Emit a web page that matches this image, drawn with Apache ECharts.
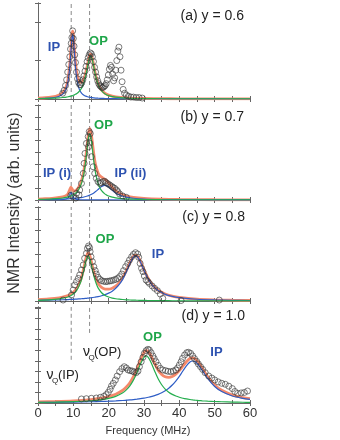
<!DOCTYPE html>
<html><head><meta charset="utf-8">
<script src="https://cdn.jsdelivr.net/npm/echarts@6/dist/echarts.min.js"></script>
<style>html,body{margin:0;padding:0;background:#fff}#c{width:340px;height:440px}</style>
</head><body><div id="c"></div>
<script>
// ---------- tick labels / reference lines ----------
const xTickLabels = [0, 10, 20, 30, 40, 50, 60];
const vqIP = 9.4;          // MHz, dashed line nu_Q(IP)
const vqOP = 14.6;         // MHz, dashed line nu_Q(OP)
const dashStartD = [45, 73]; // panel (d): dashed lines start (IP, OP), go up to top
const panelLabels = ['(a) y = 0.6', '(b) y = 0.7', '(c) y = 0.8', '(d) y = 1.0'];

// ---------- panel (a) y = 0.6 ----------
const aX = [0,2,4,5,6,7,7.5,8,8.5,9,9.3,9.6,9.8,10,10.3,10.6,11,11.5,12,12.5,13,13.5,14,14.5,14.9,15.3,15.8,16.3,17,17.5,18,19,20,22,25,30,35,40,50,60];
const aBlue = [0.44,0.70,1.25,1.81,2.85,5.06,7.23,11.1,18.4,33.5,48.2,63.1,67,63.1,48.2,33.5,20.6,12.1,7.83,5.4,3.94,2.99,2.34,1.89,1.61,1.39,1.17,1.0,0.82,0.72,0.63,0.50,0.41,0.29,0.19,0.10,0.07,0.05,0.03,0.02];
const aGreen = [0.45,0.60,0.84,1.01,1.24,1.57,1.77,2.03,2.34,2.73,3.02,3.33,3.58,3.86,4.33,4.89,5.8,7.33,9.49,12.6,17.3,24.1,33.1,42.0,45,42.0,33.1,24.1,15.2,11.25,8.54,5.31,3.58,1.92,0.97,0.44,0.25,0.16,0.08,0.05];
const aRed = [0.89,1.3,2.09,2.82,4.09,6.63,9.0,13.1,20.7,36.2,51.2,66.4,70.6,67.0,52.5,38.4,26.4,19.4,17.3,18.0,21.2,27.1,35.4,43.9,46.6,43.4,34.3,25.1,16.0,12.0,9.2,5.8,4.0,2.2,1.16,0.54,0.32,0.21,0.11,0.07];
const aData = [[7.0,6],[7.4,9],[7.8,14],[8.1,20],[8.4,28],[8.7,36],[9.0,44],[9.2,52],[9.4,58],[9.6,64],[9.8,71],[10.0,63],[10.2,55],[10.4,46],[10.6,38],[10.9,28],[11.2,21],[11.5,17],[11.8,15],[12.1,15],[12.4,17],[12.7,20],[13.0,24],[13.3,29],[13.6,34],[13.9,39],[14.2,43],[14.5,46],[14.8,48],[15.1,47],[15.4,44],[15.7,39],[16.0,33],[16.3,28],[16.6,23],[16.9,19],[17.2,16],[17.5,14],[17.8,13],[18.1,12],[18.4,12],[18.7,13],[19.0,14],[19.3,16],[19.6,20],[19.9,25],[20.2,31],[20.5,35],[20.8,33],[21.1,26],[21.4,19],[21.7,22],[22.0,30],[22.3,40],[22.6,50],[22.9,54],[23.2,44],[23.5,30],[23.8,18],[24.1,10],[24.5,6],[25.0,4],[25.6,3],[26.3,2],[27.0,2],[27.8,1.5],[28.6,1.5],[29.5,1]];

// ---------- panel (b) y = 0.7 ----------
const bX = [0,2,4,6,7,8,8.5,9,9.3,9.6,10,10.5,11,11.5,12,12.5,13,13.5,14,14.3,14.65,15,15.3,15.8,16.3,17,17.5,18,18.9,19.5,20,21,22,23,24,25,27,30,35,40,50,60];
const bGreen = [0.59,0.79,1.11,1.66,2.11,2.77,3.22,3.78,4.19,4.67,5.44,6.7,8.42,10.9,14.4,19.8,28.1,40.6,56.8,65.6,70,65.6,56.8,40.6,28.1,17.4,12.8,9.78,6.42,5.04,4.19,3.03,2.29,1.78,1.43,1.17,0.83,0.54,0.31,0.2,0.1,0.06];
const bBlue2 = [0.38,0.47,0.60,0.79,0.93,1.09,1.19,1.30,1.38,1.46,1.58,1.75,1.95,2.19,2.46,2.79,3.18,3.66,4.23,4.63,5.15,5.76,6.35,7.49,8.86,11.07,12.73,14.22,15.5,14.9,13.67,10.4,7.49,5.40,3.98,3.02,1.87,1.05,0.52,0.31,0.14,0.08];
const bRed = [0.99,1.3,1.78,2.63,3.4,4.89,6.66,10.96,13.57,12.01,9.72,9.63,11.01,13.48,17.12,22.78,31.42,44.37,61.12,70.31,75.22,71.42,63.2,48.14,37.0,28.5,25.56,24.03,21.94,19.96,17.88,13.45,9.79,7.19,5.42,4.2,2.7,1.6,0.83,0.51,0.24,0.14];
const bBlue1X = [0,4,6,7,8,8.5,9,9.3,9.6,10,10.5,11,11.5,12,13,14,16,20,30,60];
const bBlue1 = [0.02,0.07,0.18,0.36,1.03,2.25,5.88,8,5.88,2.70,1.18,0.64,0.39,0.26,0.14,0.09,0.05,0.03,0.01,0];
const bData = [[9.3,5],[9.95,3.5],[10.7,2],[10.9,7],[11.6,5.3],[11.8,10.5],[12.3,17.5],[12.8,28],[13.05,38.6],[13.3,49],[13.7,59.6],[14.2,66.7],[14.5,72],[14.8,70],[14.3,56],[14.65,60],[15.1,45.6],[15.6,35],[16.05,28],[16.5,22.8],[17.0,19.3],[17.5,17.5],[17.9,18.2],[18.4,19.3],[18.9,19.6],[19.3,18.2],[19.8,17],[20.3,15.8],[20.8,14.5],[21.2,13.3],[21.7,12.3],[22.2,10.5],[22.6,8.8],[23.1,6.3],[24.0,4.2],[25.0,2.8]];

// ---------- panel (c) y = 0.8 ----------
const cX = [0,3,6,8,9,10,11,12,12.5,13,13.5,14,14.2,14.5,15,15.5,16,16.5,17,18,19,20,21,22,23,24,25,26,27,27.6,28.2,29,30,31,32,33,34,36,38,40,45,50,55,60];
const cGreen = [0.76,1.21,2.21,3.72,5.13,7.45,11.5,19.3,25.4,33.2,41.7,47.4,48,46.7,40.1,31.6,24,18.3,14.0,8.8,5.9,4.21,3.14,2.42,1.93,1.57,1.3,1.09,0.93,0.85,0.78,0.70,0.62,0.55,0.49,0.44,0.39,0.33,0.27,0.23,0.16,0.12,0.09,0.07];
const cBlue = [0.76,0.95,1.23,1.48,1.64,1.83,2.04,2.30,2.46,2.6,2.79,2.98,3.06,3.2,3.44,3.71,4.0,4.34,4.7,5.63,6.82,8.39,10.5,13.5,17.6,23.3,30.9,39.7,46.6,48,46.6,41.4,32.7,24.7,18.6,14.2,11.1,7.1,4.88,3.54,1.87,1.14,0.77,0.55];
const cRed = [1.52,2.16,3.44,5.2,6.77,9.28,13.54,21.6,27.86,35.8,44.49,50.38,51.06,49.9,43.54,35.31,28.0,22.64,18.7,14.43,12.72,12.6,13.64,15.92,19.53,24.87,32.2,40.79,47.53,48.85,47.38,42.1,33.32,25.25,19.09,14.64,11.49,7.43,5.15,3.77,2.03,1.26,0.86,0.62];
const cData = [[7.1,1],[9.5,6.4],[9.95,11.7],[10.4,17],[10.9,20.6],[11.4,24],[11.8,27.7],[12.3,33],[12.8,38.3],[13.2,45.4],[13.7,50.7],[14.0,56],[14.3,58.5],[14.6,56.7],[14.75,52.5],[15.0,47],[15.4,41.8],[15.8,36.5],[16.2,32.3],[16.5,28.7],[17.0,25.2],[17.5,23],[18.0,21.6],[18.6,20.9],[19.2,20.6],[19.7,20.9],[20.3,21.3],[20.8,21.6],[21.4,22.3],[22.0,23],[22.5,24],[23.1,25.9],[23.7,28.7],[24.2,32.3],[24.8,36.5],[25.4,40],[25.9,43.6],[26.5,47],[27.0,49.6],[27.6,51.4],[28.2,50],[28.5,46.5],[28.9,40],[29.3,34.8],[29.7,31.2],[30.1,26.6],[30.6,22.3],[31.1,20.6],[31.5,18.8],[32.3,16],[33.0,13.5],[33.8,11],[34.6,7.4],[35.3,2.8],[40.5,0.5],[51.3,1]];

// ---------- panel (d) y = 1.0 ----------
const dX = [0,5,10,15,18,20,22,24,25,26,27,28,29,30,30.6,31.2,32,33,34,35,36,37,38,39,40,41,42,43,43.8,44.6,45.5,46.5,48,50,52,55,58,60];
const dGreen = [0.64,0.9,1.37,2.34,3.51,4.82,6.96,10.7,13.7,17.9,23.8,31.6,40.6,47.6,49,47.6,42.3,33.4,25.2,19.0,14.5,11.3,8.96,7.25,5.97,4.99,4.22,3.62,3.22,2.88,2.56,2.27,1.91,1.55,1.28,0.99,0.79,0.68];
const dBlue = [0.56,0.71,0.94,1.28,1.59,1.85,2.19,2.62,2.9,3.19,3.56,3.99,4.48,5.08,5.49,5.96,6.66,7.73,9.04,10.7,12.8,15.4,18.7,22.8,27.7,33.3,38.7,42.7,43.75,42.7,39.2,33.9,25.6,17.2,11.9,7.27,4.83,3.8];
const dRed = [1.2,1.61,2.31,3.62,5.1,6.67,9.15,13.3,16.6,21.1,27.4,35.6,45.1,52.7,54.5,53.6,49.0,41.1,34.2,29.7,27.3,26.7,27.7,30.1,33.7,38.3,42.9,46.3,47.0,45.6,41.8,36.2,27.5,18.8,13.2,8.3,5.6,4.5];
const dData = [[12.3,4.2],[13.7,4.5],[15.1,4.9],[16.5,5.2],[17.65,5.9],[18.6,6.9],[19.3,8.7],[19.9,11.1],[20.4,14.2],[20.8,17.7],[21.3,20.5],[21.9,24],[22.4,28.1],[23.1,32.6],[23.75,35.8],[24.4,37.8],[25.0,36.5],[25.5,34.4],[26.1,33.7],[26.7,33.3],[27.2,32.3],[27.8,31.6],[28.3,33.3],[28.7,37.8],[29.2,43],[29.7,47.6],[30.1,51.7],[30.6,54.5],[31.1,55.9],[31.5,55.2],[32.0,52.4],[32.5,49],[32.9,46.2],[33.4,43],[34.0,39.2],[34.6,36.1],[35.3,34.4],[36.1,33.7],[36.8,33],[37.6,32.6],[38.3,33.3],[39.0,34.4],[39.5,36.5],[40.0,39.6],[40.5,43],[40.9,46.5],[41.5,50],[42.1,52.4],[42.6,52.8],[43.2,51.7],[43.75,49],[44.3,46.2],[44.9,43.4],[45.4,40.6],[46.0,37.8],[46.6,35],[47.3,31.6],[48.3,28.1],[49.2,26],[50.0,24],[51.0,22],[52.0,20.5],[53.0,19.5],[54.0,17.5],[55.0,15],[55.7,12],[56.5,10],[57.5,10.5],[58.4,11],[59.3,12.5]];

// ---------- build ----------
const RED = '#f5896b', BLUE = '#2f5ec6', GREEN = '#25ae4e', DOT = '#333333';
const FONT = '"Liberation Sans", Arial, Helvetica, sans-serif';
const pairs = (xs, ys) => xs.map((x, i) => [x, ys[i]]);

const grids = [
  {left: 38, top: 3, width: 212, height: 96},
  {left: 38, top: 105, width: 212, height: 95},
  {left: 38, top: 207, width: 212, height: 94},
  {left: 38, top: 307, width: 212, height: 96}
];
const yIntervals = [40, 12.5, 12.5, 11];

const xAxis = [], yAxis = [];
grids.forEach((g, i) => {
  const axLine = {show: true, lineStyle: {color: '#666', width: 1}};
  const tick = {show: true, inside: true, length: 3, lineStyle: {color: '#666', width: 1}};
  xAxis.push({type: 'value', gridIndex: i, min: 0, max: 60, interval: 5, position: 'bottom',
    axisLine: axLine, axisTick: tick, splitLine: {show: false},
    axisLabel: {show: i === 3, margin: 4, fontSize: 13, color: '#333', fontFamily: FONT,
      formatter: v => xTickLabels.indexOf(v) >= 0 ? String(v) : ''}});
  xAxis.push({type: 'value', gridIndex: i, min: 0, max: 60, interval: 5, position: 'top',
    axisLine: axLine, axisTick: tick, splitLine: {show: false}, axisLabel: {show: false}});
  ['left', 'right'].forEach(p => yAxis.push({type: 'value', gridIndex: i, min: 0, max: 100,
    interval: yIntervals[i], position: p, axisLine: axLine, axisTick: tick,
    splitLine: {show: false}, axisLabel: {show: false}}));
});

function line(i, data, color, width, z) {
  return {type: 'line', xAxisIndex: 2 * i, yAxisIndex: 2 * i, data, symbol: 'none',
    smooth: 0.3, lineStyle: {color, width}, z, silent: true};
}
function vline(i, x, y0, y1) {
  return {type: 'line', xAxisIndex: 2 * i, yAxisIndex: 2 * i, data: [[x, y0], [x, y1]],
    symbol: 'none', lineStyle: {color: '#8a8a8a', width: 1, type: [4, 3]}, z: 1, silent: true};
}
function pts(i, data) {
  return {type: 'scatter', xAxisIndex: 2 * i, yAxisIndex: 2 * i, data, symbol: 'circle',
    symbolSize: 6, itemStyle: {color: 'rgba(255,255,255,0)', borderColor: DOT, borderWidth: 0.8},
    z: 6, silent: true};
}

const series = [];
for (let i = 0; i < 3; i++) { series.push(vline(i, vqIP, 0, 100), vline(i, vqOP, 0, 100)); }
series.push(vline(3, vqIP, dashStartD[0], 100), vline(3, vqOP, dashStartD[1], 100));

series.push(line(0, pairs(aX, aRed), RED, 2.8, 2), line(0, pairs(aX, aBlue), BLUE, 1.2, 3),
  line(0, pairs(aX, aGreen), GREEN, 1.2, 3), pts(0, aData));
series.push(line(1, pairs(bX, bRed), RED, 2.8, 2), line(1, pairs(bBlue1X, bBlue1), BLUE, 1.2, 3),
  line(1, pairs(bX, bBlue2), BLUE, 1.2, 3), line(1, pairs(bX, bGreen), GREEN, 1.2, 3), pts(1, bData));
series.push(line(2, pairs(cX, cRed), RED, 2.8, 2), line(2, pairs(cX, cBlue), BLUE, 1.2, 3),
  line(2, pairs(cX, cGreen), GREEN, 1.2, 3), pts(2, cData));
series.push(line(3, pairs(dX, dRed), RED, 2.8, 2), line(3, pairs(dX, dBlue), BLUE, 1.2, 3),
  line(3, pairs(dX, dGreen), GREEN, 1.2, 3), pts(3, dData));

function txt(x, y, text, o) {
  return {type: 'text', x, y, silent: true, rotation: (o && o.rot) || 0,
    style: {text, fill: (o && o.fill) || '#222', font: (o && o.font) || ('13px ' + FONT),
      align: (o && o.align) || 'center', verticalAlign: 'middle'}};
}
const bold = '700 13px ' + FONT;
const IPC = '#2d52b0', OPC = '#1fa64a';
const graphic = [
  txt(244, 16, panelLabels[0], {align: 'right', font: '14px ' + FONT}),
  txt(244, 117, panelLabels[1], {align: 'right', font: '14px ' + FONT}),
  txt(245, 217, panelLabels[2], {align: 'right', font: '14px ' + FONT}),
  txt(245, 316, panelLabels[3], {align: 'right', font: '14px ' + FONT}),
  txt(54, 47, 'IP', {fill: IPC, font: bold}),
  txt(98.5, 41.5, 'OP', {fill: OPC, font: bold}),
  txt(103.5, 125.5, 'OP', {fill: OPC, font: bold}),
  txt(57, 173, 'IP (i)', {fill: IPC, font: bold}),
  txt(130.5, 173, 'IP (ii)', {fill: IPC, font: bold}),
  txt(105, 239, 'OP', {fill: OPC, font: bold}),
  txt(158, 254.5, 'IP', {fill: IPC, font: bold}),
  txt(152.5, 337.5, 'OP', {fill: OPC, font: bold}),
  txt(216.5, 352.5, 'IP', {fill: IPC, font: bold}),
  txt(86.5, 352, 'ν', {font: '14px ' + FONT}),
  txt(91.5, 357.5, 'Q', {font: '8px ' + FONT}),
  txt(94, 352, '(OP)', {font: '13px ' + FONT, align: 'left'}),
  txt(50, 375, 'ν', {font: '14px ' + FONT}),
  txt(55, 380.5, 'Q', {font: '8px ' + FONT}),
  txt(58, 375, '(IP)', {font: '13px ' + FONT, align: 'left'}),
  txt(148, 431, 'Frequency (MHz)', {font: '11px ' + FONT, fill: '#333'}),
  txt(15, 203, 'NMR Intensity (arb. units)', {font: '16px ' + FONT, fill: '#333', rot: Math.PI / 2})
];

const chart = echarts.init(document.getElementById('c'), null, {renderer: 'canvas'});
chart.setOption({animation: false, grid: grids, xAxis, yAxis, series, graphic});
</script></body></html>
